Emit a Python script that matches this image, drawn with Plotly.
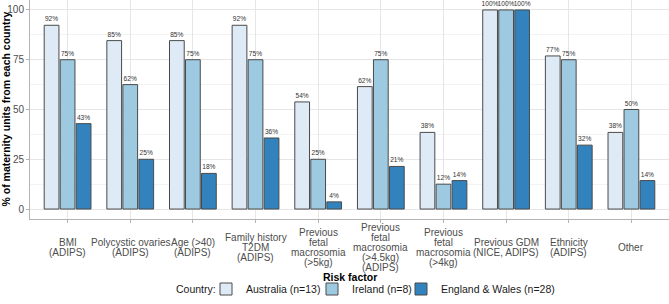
import plotly.graph_objects as go

categories = [
    "BMI<br>(ADIPS)",
    "Polycystic ovaries<br>(ADIPS)",
    "Age (>40)<br>(ADIPS)",
    "Family history<br>T2DM<br>(ADIPS)",
    "Previous<br>fetal<br>macrosomia<br>(>5kg)",
    "Previous<br>fetal<br>macrosomia<br>(>4.5kg)<br>(ADIPS)",
    "Previous<br>fetal<br>macrosomia<br>(>4kg)",
    "Previous GDM<br>(NICE, ADIPS)",
    "Ethnicity<br>(ADIPS)",
    "Other",
]
australia = [92.3, 84.6, 84.6, 92.3, 53.8, 61.5, 38.5, 100, 76.9, 38.5]
ireland = [75, 62.5, 75, 75, 25, 75, 12.5, 100, 75, 50]
england = [42.9, 25, 17.9, 35.7, 3.6, 21.4, 14.3, 100, 32.1, 14.3]
series_names = ["Australia (n=13)", "Ireland (n=8)", "England & Wales (n=28)"]
series_colors = ["#deebf7", "#9ecae1", "#3182bd"]
y_ticks = [0, 25, 50, 75, 100]

FONT = "Liberation Sans, Arial, sans-serif"
W, H = 669, 304
ML, MR, MT, MB = 30, 0, 0, 85
PW, PH = W - ML - MR, H - MT - MB
LEG_Y = 289  # legend row centre, px from top

fig = go.Figure()
legend_ids = ["legend", "legend2", "legend3"]
for name, vals, col, lg in zip(series_names, [australia, ireland, england], series_colors, legend_ids):
    fig.add_trace(go.Bar(
        x=categories, y=vals, name=name, legend=lg,
        marker=dict(color=col, line=dict(color="#4a4a4a", width=1)),
        text=[f"{round(v)}%" for v in vals],
        textposition="outside",
        textfont=dict(size=6.6, color="#333333", family=FONT),
        constraintext="none",
        cliponaxis=False,
    ))

# x tick labels: centred multi-line blocks with tight line spacing
LINE = 10
for cat in categories:
    lines = cat.split("<br>")
    n = len(lines)
    for j, ln in enumerate(lines):
        off = 28.5 - ((n - 1) / 2 - j) * LINE
        fig.add_annotation(
            x=cat, xref="x", y=-off / PH, yref="paper",
            text=ln, showarrow=False,
            xanchor="center", yanchor="middle",
            font=dict(size=10, color="#4d4d4d", family=FONT),
        )

fig.add_annotation(
    x=0.5, xref="paper", y=-58 / PH, yref="paper", text="<b>Risk factor</b>",
    showarrow=False, xanchor="center", yanchor="middle",
    font=dict(size=10.5, color="#000000", family=FONT),
)
fig.add_annotation(
    x=0, xref="paper", y=0.5, yref="paper",
    text="<b>% of maternity units from each country</b>",
    showarrow=False, textangle=-90, xanchor="center", yanchor="middle", xshift=-25,
    font=dict(size=10.5, color="#000000", family=FONT),
)
# legend title
fig.add_annotation(
    x=(218 - ML) / PW, xref="paper", y=-(LEG_Y - PH) / PH, yref="paper",
    text="Country:", showarrow=False, xanchor="right", yanchor="middle",
    font=dict(size=10.5, color="#1a1a1a", family=FONT),
)

leg_common = dict(
    orientation="h", xref="paper", xanchor="left",
    yref="container", y=1 - LEG_Y / H, yanchor="middle",
    font=dict(size=10.5, color="#1a1a1a", family=FONT),
    itemwidth=30, bgcolor="rgba(0,0,0,0)", borderwidth=0,
)
fig.update_layout(
    width=W, height=H,
    margin=dict(l=ML, r=MR, t=MT, b=MB),
    paper_bgcolor="white", plot_bgcolor="white",
    barmode="group", bargap=0.233, bargroupgap=0.08,
    font=dict(family=FONT, size=10, color="#4d4d4d"),
    showlegend=True,
    legend=dict(x=(206 - ML) / PW, **leg_common),
    legend2=dict(x=(312 - ML) / PW, **leg_common),
    legend3=dict(x=(401 - ML) / PW, **leg_common),
)
fig.update_xaxes(
    range=[-0.6, 9.6], showticklabels=False,
    ticks="outside", ticklen=3, tickcolor="#b3b3b3",
    showgrid=True, gridcolor="#e6e6e6", gridwidth=0.6,
    showline=True, mirror=True, linecolor="#b3b3b3", linewidth=1,
    zeroline=False,
)
fig.update_yaxes(
    range=[-5, 105], tickvals=y_ticks,
    ticks="outside", ticklen=3, tickcolor="#b3b3b3",
    tickfont=dict(size=10, color="#4d4d4d", family=FONT),
    showgrid=True, gridcolor="#e6e6e6", gridwidth=0.6,
    minor=dict(tickvals=[12.5, 37.5, 62.5, 87.5], showgrid=True, gridcolor="#f3f3f3", gridwidth=0.4, ticks=""),
    showline=True, mirror=True, linecolor="#b3b3b3", linewidth=1,
    zeroline=False,
)

fig.write_html("out.html")
